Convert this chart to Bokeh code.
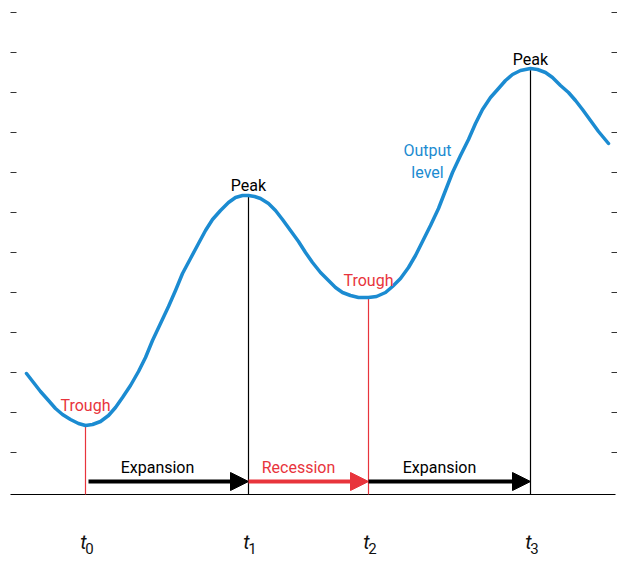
from bokeh.plotting import figure
from bokeh.models import Range1d, Arrow, NormalHead, ColumnDataSource
from bokeh.core.properties import value
from bokeh.embed import file_html
from bokeh.resources import INLINE

# output level curve (pixel-like units, y grows downward)
curve_x = [26, 33, 40, 48, 55, 62, 70, 78, 85, 92, 100, 108, 115, 122, 130, 138, 145, 152,
           160, 168, 175, 182, 190, 198, 205, 212, 220, 228, 235, 242, 248, 254, 260, 268,
           275, 282, 290, 298, 305, 312, 320, 328, 335, 342, 350, 358, 368, 376, 385, 392,
           400, 408, 415, 422, 430, 438, 445, 452, 460, 468, 475, 482, 490, 498, 505, 512,
           520, 525, 530, 537, 545, 552, 560, 568, 575, 582, 590, 598, 608]
curve_y = [373, 382, 391, 400, 408, 414, 419, 423, 425, 424, 421, 415, 407, 397, 385, 371,
           357, 340, 323, 306, 290, 273, 258, 243, 230, 219, 210, 202, 197, 195, 195, 196,
           198, 203, 210, 219, 230, 241, 252, 262, 272, 280, 287, 292, 295, 297, 297, 296,
           292, 286, 278, 267, 255, 241, 225, 208, 190, 172, 155, 139, 123, 109, 97, 88,
           80, 74, 70, 69, 68, 69, 72, 77, 85, 92, 100, 109, 120, 131, 143]

turn_x = [85, 248, 368, 530]
turn_y = [425, 195, 297, 68]
turn_names = ["Trough", "Peak", "Trough", "Peak"]
turn_subs = ["0", "1", "2", "3"]
phase_names = ["Expansion", "Recession", "Expansion"]

tick_y = [12, 52, 92, 132, 172, 212, 252, 292, 332, 372, 412, 452]
base_y = 494
arrow_y = 481

BLUE = "#1b8bd1"
RED = "#e8343c"
FONT = value("Roboto")

p = figure(width=617, height=561, output_backend="svg", toolbar_location=None,
           x_range=Range1d(0, 617), y_range=Range1d(561, 0), min_border=0)
p.axis.visible = False
p.grid.visible = False
p.outline_line_color = None

# side tick dashes
p.segment(x0=[10] * len(tick_y), x1=[16] * len(tick_y), y0=tick_y, y1=tick_y,
          line_color="#333333", line_width=1)
p.segment(x0=[611] * len(tick_y), x1=[617] * len(tick_y), y0=tick_y, y1=tick_y,
          line_color="#333333", line_width=1)

p.segment(x0=[10], x1=[615], y0=[base_y], y1=[base_y], line_color="black", line_width=1.2)

colors = [RED, "black", RED, "black"]
p.segment(x0=turn_x, x1=turn_x, y0=turn_y, y1=[base_y] * 4, line_color=colors, line_width=1.2)

p.line(curve_x, curve_y, line_color=BLUE, line_width=3.5, line_join="round", line_cap="round")

arrow_colors = ["black", RED, "black"]
starts = [turn_x[0] + 3, turn_x[1], turn_x[2]]
for i in range(3):
    c = arrow_colors[i]
    p.add_layout(Arrow(end=NormalHead(size=18, fill_color=c, line_color=c),
                       x_start=starts[i], y_start=arrow_y, x_end=turn_x[i + 1], y_end=arrow_y,
                       line_color=c, line_width=4))

mid = [(turn_x[i] + turn_x[i + 1]) / 2 - 10 for i in range(3)]
mid[0] = 157
p.text(x=mid, y=[467] * 3, text=phase_names, text_color=arrow_colors,
       text_align="center", text_baseline="middle", text_font=FONT, text_font_size="16px")

label_y = [405, 185, 280, 59]
p.text(x=turn_x, y=label_y, text=turn_names, text_color=colors,
       text_align="center", text_baseline="middle", text_font=FONT, text_font_size="16px")

p.text(x=[427, 427], y=[150, 172], text=["Output", "level"], text_color=BLUE,
       text_align="center", text_baseline="middle", text_font=FONT, text_font_size="16px")

src = ColumnDataSource(dict(x=[t - 2 for t in turn_x], y=[541] * 4,
                            sx=[t + 4 for t in turn_x], sy=[548] * 4, s=turn_subs))
p.text(x="x", y="y", text=value("t"), source=src, text_align="center", text_baseline="middle",
       text_font=FONT, text_font_style="italic", text_font_size="20px", text_color="#111111")
p.text(x="sx", y="sy", text="s", source=src, text_align="center", text_baseline="middle",
       text_font=FONT, text_font_size="15px", text_color="#111111")

open("out.html", "w").write(file_html(p, INLINE))
